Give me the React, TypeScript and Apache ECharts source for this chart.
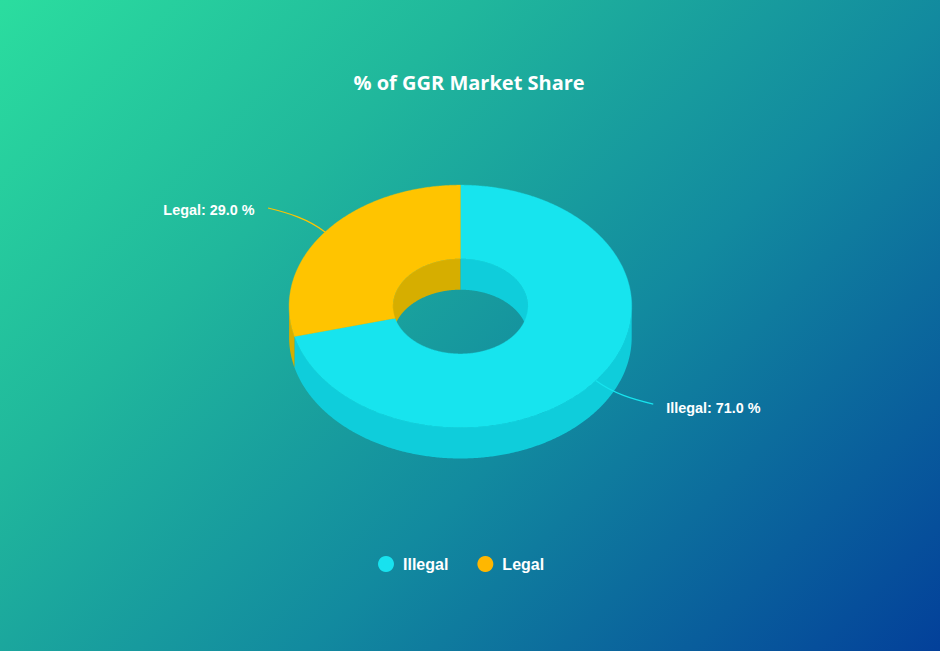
import React, { useEffect, useRef } from "react";
import * as echarts from "echarts";

const categories = ["Illegal", "Legal"];
const shares = [71.0, 29.0];
const topColors = ["#17e4ee", "#ffc400"];
const sideColors = ["#0fcddb", "#d6ae00"];
const legendColors = ["#18e2ef", "#ffb700"];
const titleText = "% of GGR Market Share";
// connector end offsets relative to each slice's rim point, and label offsets from that end
const connectorEnd = [[57.5, 23.5], [-57, -24]];
const labelOffset = [[13, 4], [-13.5, 1.5]];

const W = 940, H = 651;
const CX = 460.4, CY = 306.3, RX = 171.3, RY = 121.2, IRX = 67.5, IRY = 47.6, DEPTH = 31;

const total = shares.reduce((a, b) => a + b, 0);
const sliceAngles = shares.reduce<[number, number][]>((acc, v) => {
  const s = acc.length ? acc[acc.length - 1][1] : 0;
  acc.push([s, s + (v / total) * 360]);
  return acc;
}, []);

const pt = (deg: number, rx: number, ry: number, dy = 0): number[] => {
  const r = (deg * Math.PI) / 180;
  return [CX + rx * Math.sin(r), CY - ry * Math.cos(r) + dy];
};
const arc = (a: number, b: number, rx: number, ry: number, dy = 0): number[][] => {
  const n = Math.max(2, Math.ceil(Math.abs(b - a) * 2));
  const out: number[][] = [];
  for (let i = 0; i <= n; i++) out.push(pt(a + ((b - a) * i) / n, rx, ry, dy));
  return out;
};
// parts of [a,b] that overlap [lo,hi], also trying the range shifted by a full turn
const overlap = (a: number, b: number, lo: number, hi: number): [number, number][] => {
  const res: [number, number][] = [];
  for (const k of [-360, 0, 360]) {
    const s = Math.max(a, lo + k), e = Math.min(b, hi + k);
    if (e > s) res.push([s, e]);
  }
  return res;
};

const band = (a: number, b: number, rx: number, ry: number) => [
  ...arc(a, b, rx, ry),
  ...arc(b, a, rx, ry, DEPTH),
];

const makeRender = (layer: "inner" | "outer" | "top" | "label") => (_: any, api: any) => {
  const idx = api.value(0) as number;
  const [a, b] = sliceAngles[idx];
  const children: any[] = [];
  if (layer === "inner") {
    overlap(a, b, -90, 90).forEach(([s, e]) =>
      children.push({ type: "polygon", shape: { points: band(s, e, IRX, IRY) }, style: { fill: sideColors[idx] } })
    );
  } else if (layer === "outer") {
    overlap(a, b, 90, 270).forEach(([s, e]) =>
      children.push({ type: "polygon", shape: { points: band(s, e, RX, RY) }, style: { fill: sideColors[idx] } })
    );
  } else if (layer === "top") {
    children.push({
      type: "polygon",
      shape: { points: [...arc(a, b, RX, RY), ...arc(b, a, IRX, IRY)] },
      style: { fill: topColors[idx], stroke: topColors[idx], lineWidth: 0.4 },
    });
  } else {
    const mid = (a + b) / 2;
    const [x1, y1] = pt(mid, RX, RY);
    const dx = connectorEnd[idx][0], dy = connectorEnd[idx][1];
    const x2 = x1 + dx, y2 = y1 + dy;
    const side = dx > 0 ? 1 : -1;
    children.push({
      type: "bezierCurve",
      shape: { x1, y1, x2, y2, cpx1: x1 + dx * 0.3, cpy1: y1 + dy * 0.55, cpx2: x1 + dx * 0.65, cpy2: y1 + dy * 0.8 },
      style: { stroke: topColors[idx], lineWidth: 1.2, fill: "none" },
    });
    children.push({
      type: "text",
      x: x2 + labelOffset[idx][0],
      y: y2 + labelOffset[idx][1],
      style: {
        text: `${categories[idx]}: ${shares[idx].toFixed(1)} %`,
        fill: "#ffffff",
        font: 'bold 14.4px "Liberation Sans", Arial, sans-serif',
        align: side > 0 ? "left" : "right",
        verticalAlign: "middle",
      },
    });
  }
  return { type: "group", children };
};

const layerSeries = (layer: "inner" | "outer" | "top" | "label", z: number) =>
  categories.map((name, i) => ({
    type: "custom",
    name,
    coordinateSystem: "none",
    silent: true,
    z,
    clip: false,
    itemStyle: { color: legendColors[i] },
    data: [[i, shares[i]]],
    renderItem: makeRender(layer),
  }));

export default function App() {
  const ref = useRef<HTMLDivElement>(null);
  useEffect(() => {
    document.body.style.margin = "0";
    const chart = echarts.init(ref.current!, undefined, { renderer: "svg" });
    const end = (W + H) / 2;
    chart.setOption({
      animation: false,
      backgroundColor: {
        type: "linear", x: 0, y: 0, x2: end, y2: end, global: true,
        colorStops: [
          { offset: 0, color: "#2bdd9f" },
          { offset: 0.3, color: "#20b79c" },
          { offset: 0.6, color: "#128a9f" },
          { offset: 1, color: "#03409a" },
        ],
      },
      title: {
        text: titleText,
        left: 348.5,
        top: 67,
        textStyle: { color: "#ffffff", fontFamily: '"Open Sans"', fontWeight: 700, fontSize: 20 },
      },
      legend: {
        left: 373,
        top: 551,
        icon: "circle",
        itemWidth: 16,
        itemHeight: 16,
        itemGap: 29,
        selectedMode: false,
        data: categories.map((name, i) => ({ name, itemStyle: { color: legendColors[i] } })),
        textStyle: { color: "#ffffff", fontWeight: "bold", fontSize: 16, fontFamily: '"Liberation Sans"', padding: [0, 0, 0, 4] },
      },
      series: [
        ...layerSeries("inner", 1),
        ...layerSeries("outer", 2),
        ...layerSeries("top", 3),
        ...layerSeries("label", 4),
      ],
    });
    return () => chart.dispose();
  }, []);
  return <div ref={ref} style={{ width: W, height: H }} />;
}
